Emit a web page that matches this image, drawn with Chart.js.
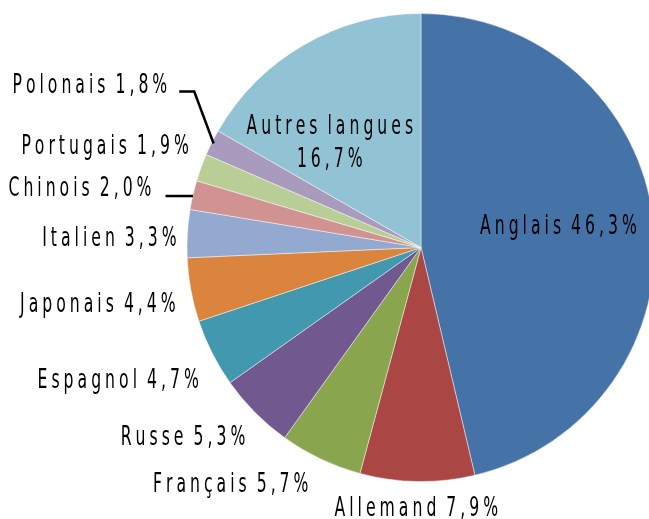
<!DOCTYPE html>
<html>
<head>
<meta charset="utf-8">
<script src="https://cdn.jsdelivr.net/npm/chart.js@4.4.1/dist/chart.umd.min.js"></script>
<style>
  html, body { margin: 0; padding: 0; background: #fff; overflow: hidden; }
  #wrap { width: 649px; height: 519px; overflow: hidden; }
</style>
</head>
<body>
<div id="wrap"><canvas id="pie" width="700" height="519"></canvas></div>
<script>
// langues (ordre horaire depuis midi)
const langues = ['Anglais', 'Allemand', 'Français', 'Russe', 'Espagnol', 'Japonais',
  'Italien', 'Chinois', 'Portugais', 'Polonais', 'Autres langues'];
const parts = [46.3, 7.9, 5.7, 5.3, 4.7, 4.4, 3.3, 2.0, 1.9, 1.8, 16.7];
const couleurs = ['#4572A7', '#AA4643', '#89A54E', '#71588F', '#4198AF', '#DB843D',
  '#93A9CF', '#D19392', '#B9CD96', '#A99BBD', '#92C3D4'];

// décalage des étiquettes par rapport au bord de la part (px)
const decalages = [[-95, 7], [-1, 28], [-90, 26], [-72, 26], [-94, 28], [-93, 15],
  [-78, 5], [-113, -6], [-96, -21], [-122, -57], [26, 98]];

const fmt = v => v.toFixed(1).replace('.', ',') + '%';

// texte condensé et espacé, comme dans l'original
function texteEspace(ctx, txt, cx, cy) {
  const sx = 0.645, gap = 4;
  const chars = [...txt];
  const ws = chars.map(c => c === ' ' ? 2 : ctx.measureText(c).width * sx);
  const total = ws.reduce((a, b) => a + b, 0) + gap * (chars.length - 1);
  let x = cx - total / 2;
  chars.forEach((c, i) => {
    ctx.save();
    ctx.translate(x, cy);
    ctx.scale(sx, 1);
    ctx.fillText(c, 0, 0);
    ctx.restore();
    x += ws[i] + gap;
  });
  return total;
}

const etiquettes = {
  id: 'etiquettes',
  afterDatasetsDraw(chart) {
    const ctx = chart.ctx;
    const arcs = chart.getDatasetMeta(0).data;
    ctx.save();
    ctx.font = '27px "Liberation Sans Narrow", "DejaVu Sans Condensed", sans-serif';
    ctx.fillStyle = '#000';
    ctx.textBaseline = 'middle';
    ctx.textAlign = 'left';
    arcs.forEach((arc, i) => {
      const a = (arc.startAngle + arc.endAngle) / 2;
      const R = arc.outerRadius;
      const px = arc.x + R * Math.cos(a), py = arc.y + R * Math.sin(a);
      const lx = px + decalages[i][0], ly = py + decalages[i][1];
      let w;
      if (langues[i] === 'Autres langues') {
        w = texteEspace(ctx, langues[i], lx, ly - 16);
        texteEspace(ctx, fmt(parts[i]), lx, ly + 17);
      } else {
        w = texteEspace(ctx, langues[i] + ' ' + fmt(parts[i]), lx, ly);
      }
      // lignes de rappel
      ctx.strokeStyle = '#000';
      ctx.lineWidth = 2.5;
      if (langues[i] === 'Polonais') {
        const x0 = lx + w / 2 + 12, y0 = ly + 6;
        ctx.beginPath();
        ctx.moveTo(x0, y0);
        ctx.lineTo(x0 + 15, y0);
        ctx.lineTo(arc.x + (R - 2) * Math.cos(a), arc.y + (R - 2) * Math.sin(a));
        ctx.stroke();
      } else if (langues[i] === 'Chinois') {
        ctx.beginPath();
        ctx.moveTo(lx + w / 2 + 14, py + 1);
        ctx.lineTo(px, py + 1);
        ctx.stroke();
      }
    });
    ctx.restore();
  }
};

new Chart(document.getElementById('pie'), {
  type: 'pie',
  data: {
    labels: langues,
    datasets: [{
      data: parts,
      backgroundColor: couleurs,
      borderColor: 'rgba(255,255,255,0.45)',
      borderWidth: 1
    }]
  },
  options: {
    responsive: false,
    animation: false,
    devicePixelRatio: 1,
    layout: { padding: { left: 142, right: 0, top: 13, bottom: 37 } },
    plugins: {
      legend: { display: false },
      tooltip: { enabled: false }
    }
  },
  plugins: [etiquettes]
});
</script>
</body>
</html>
